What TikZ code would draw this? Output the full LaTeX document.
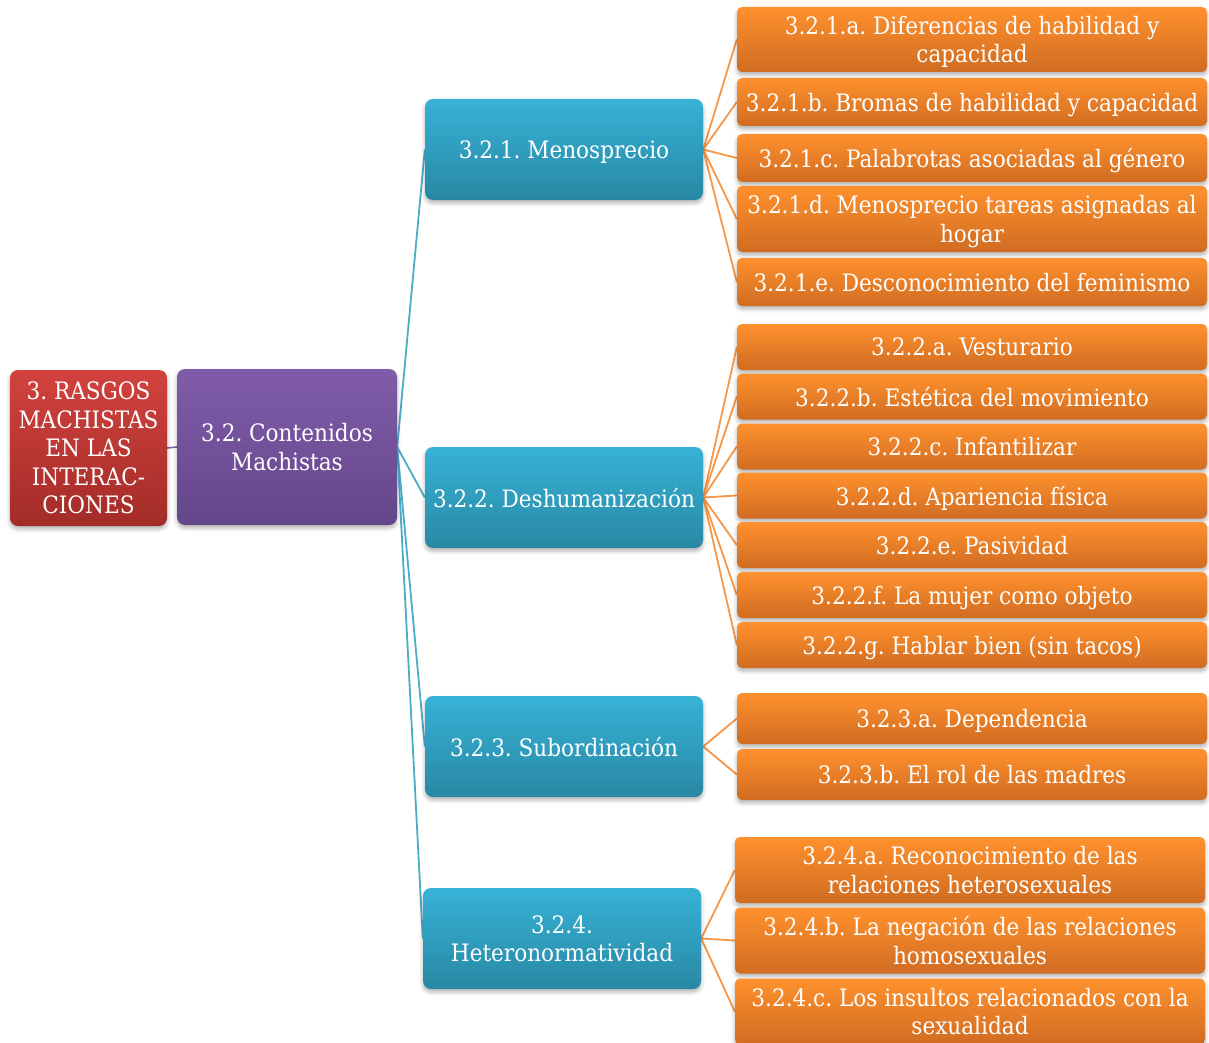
\documentclass[tikz,border=0pt]{standalone}
\usepackage{fontspec}
\setmainfont{DejaVu Serif Condensed}
\usepackage{tikz}
\usetikzlibrary{positioning, backgrounds, shadows.blur}
\frenchspacing

\definecolor{rootTop}{RGB}{210,66,62}
\definecolor{rootBot}{RGB}{163,44,40}
\definecolor{subTop}{RGB}{128,92,170}
\definecolor{subBot}{RGB}{100,70,138}
\definecolor{catTop}{RGB}{55,178,214}
\definecolor{catBot}{RGB}{40,136,164}
\definecolor{itemTop}{RGB}{255,145,45}
\definecolor{itemBot}{RGB}{208,108,34}
\definecolor{subLine}{RGB}{128,100,162}
\definecolor{catLine}{RGB}{75,172,198}
\definecolor{itemLine}{RGB}{247,150,70}

\tikzset{
  box/.style={rectangle, rounded corners=8pt, text=white, align=center, inner sep=2pt, text depth=0pt, font=\fontsize{24}{28.5}\selectfont, blur shadow={shadow xshift=0pt, shadow yshift=-3pt, shadow blur radius=4pt, shadow opacity=30}},
  rootbox/.style={box, top color=rootTop, bottom color=rootBot, minimum width=157pt, minimum height=156pt},
  subbox/.style={box, top color=subTop, bottom color=subBot, minimum width=220pt, minimum height=156pt},
  catbox/.style={box, top color=catTop, bottom color=catBot, minimum width=278pt, minimum height=101pt},
  itembox/.style={box, rounded corners=5pt, top color=itemTop, bottom color=itemBot, minimum width=470pt, minimum height=46pt},
  subedge/.style={draw=subLine, line width=1.6pt},
  catedge/.style={draw=catLine, line width=1.8pt},
  itemedge/.style={draw=itemLine, line width=1.8pt}
}

\begin{document}
\begin{tikzpicture}[x=1pt, y=1pt]
\useasboundingbox (0,0) rectangle (1209,-1043);

% Root and second level
\node (rasgos) [rootbox] at (88.5,-448) {3. RASGOS\\MACHISTAS\\EN LAS\\INTERAC-\\CIONES};
\node (contenidos) [subbox] at (287,-447) {3.2. Contenidos\\Machistas};

% Categories
\node (menosprecio) [catbox] at (564,-149.5) {3.2.1. Menosprecio};
\node (deshum) [catbox] at (564,-497.5) {3.2.2. Deshumanización};
\node (subord) [catbox] at (564,-746.5) {3.2.3. Subordinación};
\node (hetero) [catbox] at (562,-938.5) {3.2.4.\\Heteronormatividad};

% 3.2.1 items
\node (menosA) [itembox, minimum height=65pt] at (972,-39.5) {3.2.1.a. Diferencias de habilidad y\\capacidad};
\node (menosB) [itembox, minimum height=48pt] at (972,-102) {3.2.1.b. Bromas de habilidad y capacidad};
\node (menosC) [itembox, minimum height=48pt] at (972,-158) {3.2.1.c. Palabrotas asociadas al género};
\node (menosD) [itembox, minimum height=66pt] at (972,-219) {3.2.1.d. Menosprecio tareas asignadas al\\hogar};
\node (menosE) [itembox, minimum height=48pt] at (972,-282) {3.2.1.e. Desconocimiento del feminismo};

% 3.2.2 items
\node (deshumA) [itembox] at (972,-347) {3.2.2.a. Vesturario};
\node (deshumB) [itembox] at (972,-396.5) {3.2.2.b. Estética del movimiento};
\node (deshumC) [itembox] at (972,-446.5) {3.2.2.c. Infantilizar};
\node (deshumD) [itembox] at (972,-495.5) {3.2.2.d. Apariencia física};
\node (deshumE) [itembox] at (972,-545) {3.2.2.e. Pasividad};
\node (deshumF) [itembox] at (972,-595) {3.2.2.f. La mujer como objeto};
\node (deshumG) [itembox] at (972,-645) {3.2.2.g. Hablar bien (sin tacos)};

% 3.2.3 items
\node (subordA) [itembox, minimum height=51pt] at (972,-718.5) {3.2.3.a. Dependencia};
\node (subordB) [itembox, minimum height=51pt] at (972,-774.5) {3.2.3.b. El rol de las madres};

% 3.2.4 items
\node (heteroA) [itembox, minimum height=66pt] at (970,-870) {3.2.4.a. Reconocimiento de las\\relaciones heterosexuales};
\node (heteroB) [itembox, minimum height=66pt] at (970,-940.5) {3.2.4.b. La negación de las relaciones\\homosexuales};
\node (heteroC) [itembox, minimum height=66pt] at (970,-1011.5) {3.2.4.c. Los insultos relacionados con la\\sexualidad};

% Connectors
\begin{scope}[on background layer]
\draw [subedge] (rasgos.east) -- (contenidos.west);
\draw [catedge] (contenidos.east) -- (menosprecio.west);
\draw [catedge] (contenidos.east) -- (deshum.west);
\draw [catedge] (contenidos.east) -- (subord.west);
\draw [catedge] (contenidos.east) -- (hetero.west);
\draw [itemedge] (menosprecio.east) -- (menosA.west);
\draw [itemedge] (menosprecio.east) -- (menosB.west);
\draw [itemedge] (menosprecio.east) -- (menosC.west);
\draw [itemedge] (menosprecio.east) -- (menosD.west);
\draw [itemedge] (menosprecio.east) -- (menosE.west);
\draw [itemedge] (deshum.east) -- (deshumA.west);
\draw [itemedge] (deshum.east) -- (deshumB.west);
\draw [itemedge] (deshum.east) -- (deshumC.west);
\draw [itemedge] (deshum.east) -- (deshumD.west);
\draw [itemedge] (deshum.east) -- (deshumE.west);
\draw [itemedge] (deshum.east) -- (deshumF.west);
\draw [itemedge] (deshum.east) -- (deshumG.west);
\draw [itemedge] (subord.east) -- (subordA.west);
\draw [itemedge] (subord.east) -- (subordB.west);
\draw [itemedge] (hetero.east) -- (heteroA.west);
\draw [itemedge] (hetero.east) -- (heteroB.west);
\draw [itemedge] (hetero.east) -- (heteroC.west);
\end{scope}

\end{tikzpicture}
\end{document}
